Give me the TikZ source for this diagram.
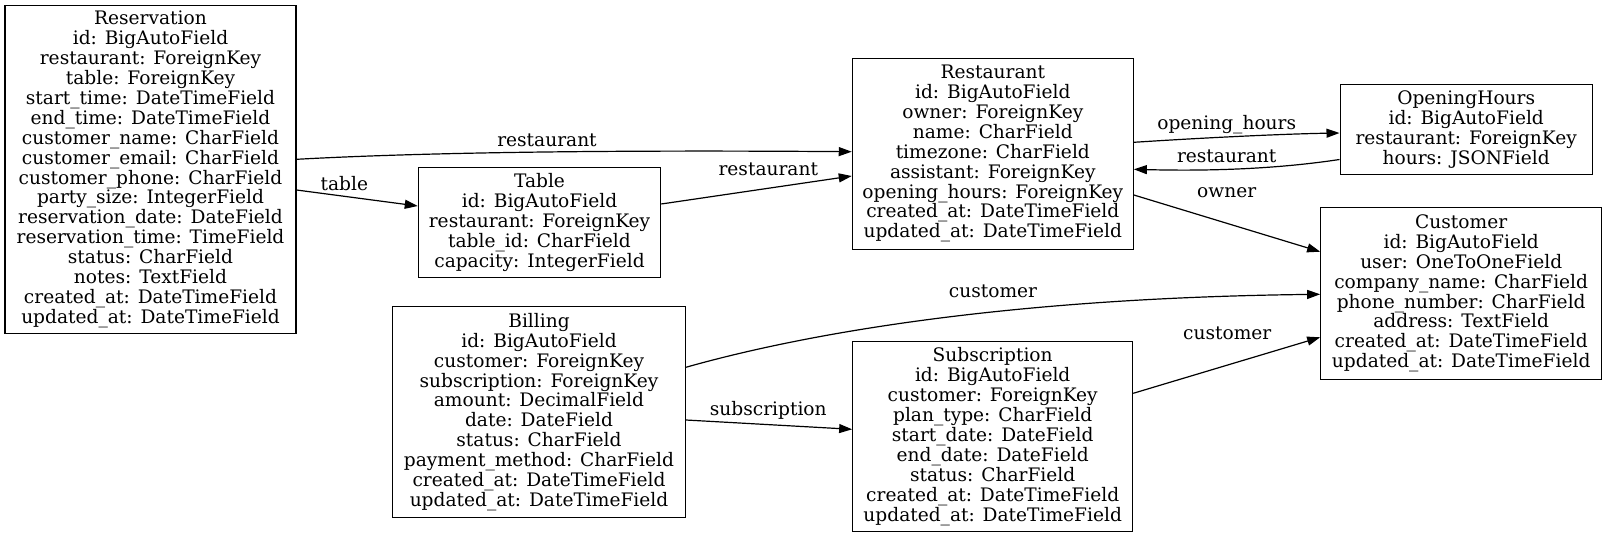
\documentclass[tikz,border=0pt]{standalone}
\usepackage{fontspec}
\setmainfont{DejaVu Serif}
\usetikzlibrary{arrows.meta}
\newcommand{\modelfont}{\fontsize{18.6}{19.9}\selectfont}

\begin{document}
\begin{tikzpicture}[
    x=1pt, y=-1pt,
    model/.style={draw, line width=1.1pt, align=center, inner sep=0pt, font=\modelfont},
    rel/.style={-{Triangle[length=13pt, width=9pt]}, line width=1.2pt},
    lbl/.style={inner sep=0pt, font=\modelfont}
]
\useasboundingbox (0,0) rectangle (1607,538);
\node[model, minimum width=291pt, minimum height=328.7pt] (reservation) at (150.5,169.4) {Reservation\\id: BigAutoField\\restaurant: ForeignKey\\table: ForeignKey\\start\_time: DateTimeField\\end\_time: DateTimeField\\customer\_name: CharField\\customer\_email: CharField\\customer\_phone: CharField\\party\_size: IntegerField\\reservation\_date: DateField\\reservation\_time: TimeField\\status: CharField\\notes: TextField\\created\_at: DateTimeField\\updated\_at: DateTimeField};
\node[model, minimum width=242.4pt, minimum height=110.2pt] (table) at (539.5,222.4) {Table\\id: BigAutoField\\restaurant: ForeignKey\\table\_id: CharField\\capacity: IntegerField};
\node[model, minimum width=281pt, minimum height=190.7pt] (restaurant) at (992.8,153.7) {Restaurant\\id: BigAutoField\\owner: ForeignKey\\name: CharField\\timezone: CharField\\assistant: ForeignKey\\opening\_hours: ForeignKey\\created\_at: DateTimeField\\updated\_at: DateTimeField};
\node[model, minimum width=252.3pt, minimum height=90.3pt] (openinghours) at (1466.2,129.2) {OpeningHours\\id: BigAutoField\\restaurant: ForeignKey\\hours: JSONField};
\node[model, minimum width=281pt, minimum height=171.3pt] (customer) at (1461.2,293.4) {Customer\\id: BigAutoField\\user: OneToOneField\\company\_name: CharField\\phone\_number: CharField\\address: TextField\\created\_at: DateTimeField\\updated\_at: DateTimeField};
\node[model, minimum width=292.6pt, minimum height=210.6pt] (billing) at (539,412) {Billing\\id: BigAutoField\\customer: ForeignKey\\subscription: ForeignKey\\amount: DecimalField\\date: DateField\\status: CharField\\payment\_method: CharField\\created\_at: DateTimeField\\updated\_at: DateTimeField};
\node[model, minimum width=280pt, minimum height=190pt] (subscription) at (992.7,436.7) {Subscription\\id: BigAutoField\\customer: ForeignKey\\plan\_type: CharField\\start\_date: DateField\\end\_date: DateField\\status: CharField\\created\_at: DateTimeField\\updated\_at: DateTimeField};

\draw[rel] ([yshift=10.1pt]reservation.east) .. controls (430,152) and (620,150) .. ([yshift=2pt]restaurant.west);
\node[lbl] (lblresrest) at (547,140.5) {restaurant};
\draw[rel] ([yshift=-20.6pt]reservation.east) -- ([yshift=16.4pt]table.west);
\node[lbl] (lblrestable) at (344.3,183.3) {table};
\draw[rel] ([yshift=18.4pt]table.east) -- ([yshift=-22.3pt]restaurant.west);
\node[lbl] (lbltablerest) at (768.3,169.3) {restaurant};
\draw[rel] ([yshift=11.4pt]restaurant.east) .. controls (1200,138) and (1280,134) .. ([yshift=-3.8pt]openinghours.west);
\node[lbl] (lblresthours) at (1226.7,125) {opening\_hours};
\draw[rel] ([yshift=-30.3pt]openinghours.west) .. controls (1270,170) and (1200,171) .. ([yshift=-15.6pt]restaurant.west -| restaurant.east);
\node[lbl] (lblhoursrest) at (1226.7,156) {restaurant};
\draw[rel] ([yshift=-41.3pt]restaurant.east) -- ([yshift=41.7pt]customer.west);
\node[lbl] (lblrestcust) at (1226.7,192.7) {owner};
\draw[rel] ([yshift=44.7pt]billing.east) .. controls (800,335) and (1000,298) .. ([yshift=-0.9pt]customer.west);
\node[lbl] (lblbillcust) at (993,291) {customer};
\draw[rel] ([yshift=-8pt]billing.east) -- ([yshift=7.4pt]subscription.west);
\node[lbl] (lblbillsub) at (768.3,410.7) {subscription};
\draw[rel] ([yshift=43.4pt]subscription.east) -- ([yshift=-43.9pt]customer.west);
\node[lbl] (lblsubcust) at (1227.3,333.3) {customer};
\end{tikzpicture}
\end{document}
